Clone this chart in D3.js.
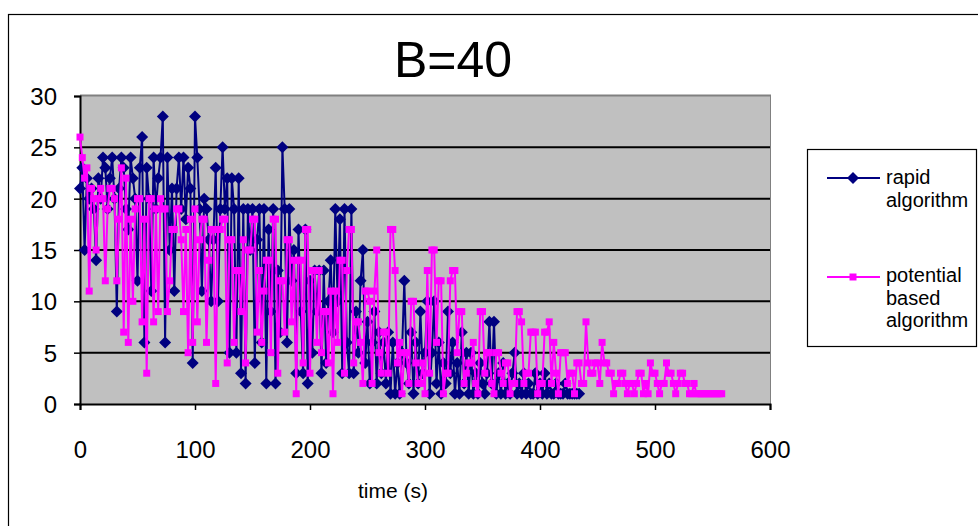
<!DOCTYPE html>
<html>
<head>
<meta charset="utf-8">
<script src="https://cdn.jsdelivr.net/npm/d3@7"></script>
<style>
  body { margin: 0; background: #fff; }
  svg { display: block; font-family: "Liberation Sans", Arial, sans-serif; }
</style>
</head>
<body>
<div class="chart"></div>
<script>
const rapid_step = 2;
const rapid = [
  21,23,15,22,20,21,19,14,22,20,
  24,23,19,22,24,20,9,21,24,23,
  19,17,24,22,20,12,23,26,6,23,
  20,11,24,19,22,24,28,6,24,15,
  21,11,21,24,19,24,18,23,21,4,
  28,24,19,11,20,19,16,10,16,23,
  10,19,25,19,22,5,22,19,5,22,
  3,19,2,19,15,19,4,16,19,6,
  19,2,17,9,19,2,13,7,25,19,
  6,19,12,15,3,17,9,3,17,2,
  12,5,13,9,13,3,13,4,10,14,
  7,19,10,18,3,19,6,3,19,3,
  9,5,12,15,4,8,2,6,9,2,
  7,3,6,2,7,1,6,1,4,1,
  5,12,4,2,7,1,6,2,9,3,
  5,10,1,5,10,2,6,1,4,2,
  9,3,6,1,4,1,7,2,5,1,
  5,1,3,1,4,2,1,3,8,2,
  8,1,3,1,4,1,2,1,3,5,
  1,2,1,3,1,2,1,1,3,1,
  2,1,3,1,2,1,1,2,1,1,
  1,2,1,1,1,1,1,1
];

const potential_step = 2;
const potential = [
  26,24,22,23,11,21,20,15,20,21,
  20,12,19,21,21,20,12,18,23,7,
  22,6,18,10,19,20,20,8,18,3,
  20,20,8,19,9,20,19,19,9,12,
  17,17,19,19,16,9,17,5,18,6,
  19,8,16,18,18,6,14,17,17,2,
  17,17,18,18,4,16,16,6,13,13,
  9,16,4,15,15,18,18,7,13,6,
  11,14,14,5,18,18,3,12,12,7,
  16,16,8,14,1,14,14,4,17,17,
  3,13,13,6,13,5,9,9,4,11,
  1,11,6,14,14,3,13,17,17,4,
  8,8,6,2,11,11,10,2,11,15,
  5,3,7,7,3,17,17,13,4,6,
  1,5,5,2,10,10,4,2,2,4,
  1,13,3,15,15,6,12,12,1,3,
  3,12,13,13,5,9,9,2,3,4,
  4,6,2,1,9,9,3,5,5,2,
  1,5,5,3,2,4,4,1,2,2,
  9,9,8,2,3,3,7,7,7,1,
  2,2,7,7,8,2,6,3,1,5,
  5,5,2,3,3,1,4,4,2,2,
  8,4,3,3,4,4,2,6,4,4,
  3,3,1,2,2,3,3,2,1,2,
  2,1,2,3,3,1,2,1,4,3,
  3,2,1,2,2,4,3,3,2,1,
  2,3,3,2,2,1,1,2,1,1,
  1,1,1,1,1,1,1,1,1,1
];

const x_ticks = [0, 100, 200, 300, 400, 500, 600];
const y_ticks = [0, 5, 10, 15, 20, 25, 30];
const legend_labels = [["rapid", "algorithm"], ["potential", "based", "algorithm"]];

const width = 978;
const height = 526;
const plot = {left: 80, right: 770, top: 96, bottom: 404};

const svg = d3.select(".chart").append("svg").attr("width", width).attr("height", height);

// outer chart frame
svg.append("rect")
  .attr("x", 8.5).attr("y", 14.5).attr("width", 1000).attr("height", 600)
  .attr("fill", "none").attr("stroke", "#000").attr("stroke-width", 1.2);

const x_scale = d3.scaleLinear().domain([0, 600]).range([plot.left, plot.right]);
const y_scale = d3.scaleLinear().domain([0, 30]).range([plot.bottom, plot.top]);

svg.append("rect")
  .attr("x", plot.left).attr("y", plot.top)
  .attr("width", plot.right - plot.left).attr("height", plot.bottom - plot.top)
  .attr("fill", "#c0c0c0");
svg.append("line")
  .attr("x1", plot.left).attr("x2", plot.right + 1)
  .attr("y1", plot.top - 0.5).attr("y2", plot.top - 0.5)
  .attr("stroke", "#808080").attr("stroke-width", 2);
svg.append("line")
  .attr("x1", plot.right + 0.5).attr("x2", plot.right + 0.5)
  .attr("y1", plot.top).attr("y2", plot.bottom)
  .attr("stroke", "#808080").attr("stroke-width", 1);

svg.selectAll(".grid")
  .data(y_ticks.filter(d => d > 0 && d < 30))
  .join("line")
  .attr("class", "grid")
  .attr("x1", plot.left).attr("x2", plot.right)
  .attr("y1", d => y_scale(d)).attr("y2", d => y_scale(d))
  .attr("stroke", "#000").attr("stroke-width", 2);

// axes
const x_axis = svg.append("g")
  .attr("transform", "translate(0," + plot.bottom + ")")
  .call(d3.axisBottom(x_scale).tickValues(x_ticks).tickSize(6));
const y_axis = svg.append("g")
  .attr("transform", "translate(" + plot.left + ",0)")
  .call(d3.axisLeft(y_scale).tickValues(y_ticks).tickSize(6));
[x_axis, y_axis].forEach(a => {
  a.select(".domain").attr("stroke", "#000").attr("stroke-width", 2);
  a.selectAll(".tick line").attr("stroke", "#000").attr("stroke-width", 1.5);
  a.selectAll(".tick text").attr("fill", "#000")
    .style("font-family", "'Liberation Sans', Arial, sans-serif").style("font-size", "24px");
});
x_axis.selectAll(".tick text").attr("y", 54).attr("dy", null);
y_axis.selectAll(".tick text").attr("x", -23).attr("dy", "0.35em");

// series
const rapid_data = rapid.map((v, i) => ({t: i * rapid_step, v: v}));
const potential_data = potential.map((v, i) => ({t: i * potential_step, v: v}));

const line = d3.line().x(d => x_scale(d.t)).y(d => y_scale(d.v));
const diamond = "M0,-6L6,0L0,6L-6,0Z";
const square = "M-3.5,-3.5L3.5,-3.5L3.5,3.5L-3.5,3.5Z";

svg.append("path").datum(rapid_data)
  .attr("d", line).attr("fill", "none").attr("stroke", "#000080").attr("stroke-width", 2);
svg.append("g").selectAll("path")
  .data(rapid_data)
  .join("path")
  .attr("transform", d => "translate(" + x_scale(d.t) + "," + y_scale(d.v) + ")")
  .attr("d", diamond)
  .attr("fill", "#000080");

svg.append("path").datum(potential_data)
  .attr("d", line).attr("fill", "none").attr("stroke", "#ff00ff").attr("stroke-width", 2);
svg.append("g").selectAll("path")
  .data(potential_data)
  .join("path")
  .attr("transform", d => "translate(" + x_scale(d.t) + "," + y_scale(d.v) + ")")
  .attr("d", square)
  .attr("fill", "#ff00ff");

// title + axis label
svg.append("text")
  .attr("x", 453).attr("y", 77)
  .attr("text-anchor", "middle")
  .style("font-size", "50px")
  .text("B=40");
svg.append("text")
  .attr("x", 393).attr("y", 498)
  .attr("text-anchor", "middle")
  .style("font-size", "21px")
  .text("time (s)");

// legend
const legend = svg.append("g");
legend.append("rect")
  .attr("x", 807.5).attr("y", 149.5).attr("width", 169).attr("height", 197)
  .attr("fill", "#fff").attr("stroke", "#000").attr("stroke-width", 1.2);

const legend_items = [
  {y: 178, text_y: 184, color: "#000080", shape: diamond},
  {y: 277, text_y: 282, color: "#ff00ff", shape: square}
];
legend_items.forEach((item, i) => {
  legend.append("line")
    .attr("x1", 827).attr("x2", 880).attr("y1", item.y).attr("y2", item.y)
    .attr("stroke", item.color).attr("stroke-width", 2);
  legend.append("path")
    .attr("transform", "translate(853," + item.y + ")")
    .attr("d", item.shape).attr("fill", item.color);
  legend.append("text")
    .attr("x", 886).attr("y", item.text_y)
    .style("font-size", "20px")
    .selectAll("tspan")
    .data(legend_labels[i])
    .join("tspan")
    .attr("x", 886)
    .attr("dy", (d, j) => j === 0 ? 0 : 22.5)
    .text(d => d);
});
</script>
</body>
</html>
